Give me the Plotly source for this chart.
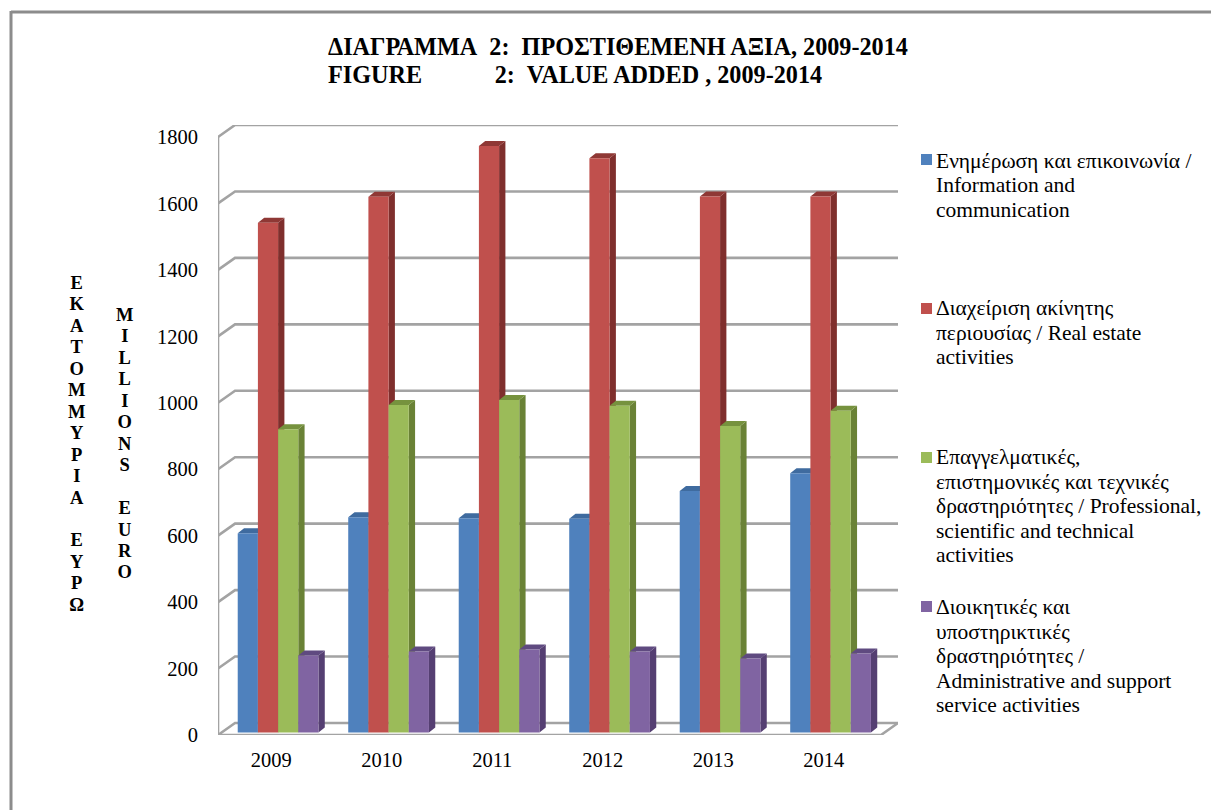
import plotly.graph_objects as go

YEARS = ["2009", "2010", "2011", "2012", "2013", "2014"]
SERIES_NAMES = [
    ["Ενημέρωση και επικοινωνία /", "Information and", "communication"],
    ["Διαχείριση ακίνητης", "περιουσίας / Real estate", "activities"],
    ["Επαγγελματικές,", "επιστημονικές και τεχνικές", "δραστηριότητες / Professional,", "scientific and technical", "activities"],
    ["Διοικητικές και", "υποστηρικτικές", "δραστηριότητες /", "Administrative and support", "service activities"],
]
INFO = [600, 648, 645, 644, 727, 781]
REAL_ESTATE = [1535, 1613, 1766, 1729, 1614, 1614]
PROFESSIONAL = [913, 986, 1001, 984, 923, 969]
ADMIN = [232, 244, 250, 244, 223, 238]
VALUES = [INFO, REAL_ESTATE, PROFESSIONAL, ADMIN]
Y_TICKS = [0, 200, 400, 600, 800, 1000, 1200, 1400, 1600, 1800]
Y_CAPTION_GR = "ΕΚΑΤΟΜΜΥΡΙΑ ΕΥΡΩ"
Y_CAPTION_EN = "MILLIONS EURO"

FRONT = ["#4f81bd", "#c0504d", "#9bbb59", "#8064a2"]
SIDE = ["#3a6190", "#7f2f2d", "#6a8236", "#553f72"]
TOP = ["#3f6b9f", "#8f3835", "#76923e", "#5f4a80"]
GRID = "#a3a3a3"
FONT = "Liberation Serif"

W, H = 1211, 810
L, R, T, B = 218, 898, 125, 735
CAT_PX = 110.33
UNIT_PX = 598 / 1800
WALL_DX = 17 / CAT_PX
WALL_DY = 12 / UNIT_PX
BAR_W = 20.15 / CAT_PX
BAR_START = (19.7 - 55.16) / CAT_PX
BAR_SHIFT_Y = 2.4 / UNIT_PX
DEPTH_DX = 6.3 / CAT_PX
DEPTH_DY = 5 / UNIT_PX
NB = "\u00a0"


def px(x):
    return (x - L) / (R - L)


def py(y):
    return (B - y) / (B - T)


fig = go.Figure()

# walls, floor and gridlines
gx, gy = [], []
for v in Y_TICKS:
    gx += [0, WALL_DX, 6 + WALL_DX, None]
    gy += [v, v + WALL_DY, v + WALL_DY, None]
gx += [0, 0, None, 0, 6, 6 + WALL_DX]
gy += [0, 1800, None, 0, 0, WALL_DY]
fig.add_trace(go.Scatter(x=gx, y=gy, mode="lines", line=dict(color=GRID, width=2.6),
                         hoverinfo="skip", showlegend=False, cliponaxis=False, zorder=0))

for s, values in enumerate(VALUES):
    name = " ".join(SERIES_NAMES[s])
    offset = BAR_START + s * BAR_W
    sx, sy, tx, ty = [], [], [], []
    for c, v in enumerate(values):
        x0 = c + 0.5 + offset
        x1 = x0 + BAR_W
        b = BAR_SHIFT_Y
        sx += [x1, x1 + DEPTH_DX, x1 + DEPTH_DX, x1, x1, None]
        sy += [b, b + DEPTH_DY, b + v + DEPTH_DY, b + v, b, None]
        tx += [x0, x1, x1 + DEPTH_DX, x0 + DEPTH_DX, x0, None]
        ty += [b + v, b + v, b + v + DEPTH_DY, b + v + DEPTH_DY, b + v, None]
    z = 2 * s + 1
    fig.add_trace(go.Scatter(x=sx, y=sy, mode="lines", fill="toself", fillcolor=SIDE[s],
                             line=dict(width=0), hoverinfo="skip", showlegend=False,
                             cliponaxis=False, zorder=z))
    fig.add_trace(go.Scatter(x=tx, y=ty, mode="lines", fill="toself", fillcolor=TOP[s],
                             line=dict(width=0), hoverinfo="skip", showlegend=False,
                             cliponaxis=False, zorder=z))
    fig.add_trace(go.Bar(x=[c + 0.5 for c in range(6)], y=values, base=BAR_SHIFT_Y, width=BAR_W,
                         offset=offset, marker=dict(color=FRONT[s], line=dict(width=0)),
                         name=name, showlegend=False, zorder=z + 1))

annotations = []


def text(x, y, t, size, bold=False, anchor="left", align="left"):
    annotations.append(dict(xref="paper", yref="paper", x=px(x), y=py(y), text=f"<b>{t}</b>" if bold else t,
                            showarrow=False, xanchor=anchor, yanchor="middle", align=align,
                            font=dict(family=FONT, size=size, color="#000000"),
                            borderpad=0, borderwidth=0))


def stacked(caption):
    # one letter per line; the letters are larger than the base size, which sets the tight line pitch
    rows = [f"<span style='font-size:18.5px'>{ch if ch != ' ' else NB}</span>" for ch in caption]
    return "<br>".join(rows)


# second title line
text(328, 74.5, "FIGURE" + NB * 12 + "2:" + NB * 2 + "VALUE ADDED , 2009-2014", 24.2, bold=True)

# stacked axis captions
text(76, 444, stacked(Y_CAPTION_GR), 16.5, bold=True, anchor="center", align="center")
text(124, 444, stacked(Y_CAPTION_EN), 16.5, bold=True, anchor="center", align="center")

# legend
LEG_Y = [160.5, 308, 457, 607]
LEG_SWATCH_Y = [159.5, 308.5, 457.5, 606.5]
shapes = []
for s, lines in enumerate(SERIES_NAMES):
    y = LEG_Y[s]
    for j, ln in enumerate(lines):
        text(936, y + j * 24.5, ln, 21.5)
    sy = LEG_SWATCH_Y[s]
    shapes.append(dict(type="rect", xref="paper", yref="paper", x0=px(921), x1=px(932),
                       y0=py(sy - 5.5), y1=py(sy + 5.5), fillcolor=FRONT[s], line=dict(width=0)))

# outer frame
frame = "#8c8c8c"
shapes.append(dict(type="line", xref="paper", yref="paper", x0=px(11), x1=px(1211), y0=py(12), y1=py(12),
                   line=dict(color=frame, width=3)))
shapes.append(dict(type="line", xref="paper", yref="paper", x0=px(11), x1=px(11), y0=py(11), y1=py(810),
                   line=dict(color=frame, width=3)))

fig.update_layout(
    width=W, height=H, autosize=False,
    margin=dict(l=L, r=W - R, t=T, b=H - B, pad=0),
    paper_bgcolor="white", plot_bgcolor="white",
    barmode="overlay", showlegend=False,
    font=dict(family=FONT, color="#000000"),
    title=dict(text="<b>ΔΙΑΓΡΑΜΜΑ" + NB * 2 + "2:" + NB * 2 + "ΠΡΟΣΤΙΘΕΜΕΝΗ ΑΞΙΑ, 2009-2014</b>",
               x=328 / W, xanchor="left", xref="container", y=1 - 47 / H, yanchor="middle", yref="container",
               font=dict(family=FONT, size=24.2, color="#000000")),
    xaxis=dict(range=[0, 6 + WALL_DX], tickmode="array", tickvals=[c + 0.5 - 0.018 for c in range(6)], ticktext=YEARS,
               showgrid=False, zeroline=False, showline=False, ticks="", tickfont=dict(family=FONT, size=20.5),
               ticklabelstandoff=10),
    yaxis=dict(range=[0, (B - T) / UNIT_PX], tickmode="array", tickvals=Y_TICKS, ticktext=[str(v) for v in Y_TICKS],
               showgrid=False, zeroline=False, showline=False, ticks="", tickfont=dict(family=FONT, size=20.5),
               ticklabelstandoff=19),
    annotations=annotations, shapes=shapes,
)

fig.write_html("out.html", config={"displayModeBar": False}, post_script="document.body.style.margin='0';")
